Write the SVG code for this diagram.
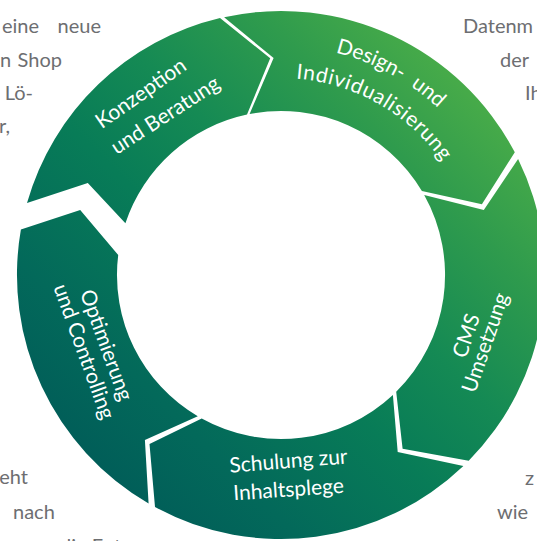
<svg xmlns="http://www.w3.org/2000/svg" width="537" height="541" viewBox="0 0 537 541">
<defs>
<linearGradient id="g" gradientUnits="userSpaceOnUse" x1="537" y1="0" x2="0" y2="541">
<stop offset="0" stop-color="#5dba47"/>
<stop offset="0.12" stop-color="#4cae48"/>
<stop offset="0.27" stop-color="#2f9b4d"/>
<stop offset="0.42" stop-color="#158a54"/>
<stop offset="0.55" stop-color="#087c57"/>
<stop offset="0.72" stop-color="#03695a"/>
<stop offset="0.88" stop-color="#005a58"/>
<stop offset="1" stop-color="#004e55"/>
</linearGradient>
<path id="arcD1" d="M79.75,165.72 A229,229 0 0 1 482.25,384.28"/>
<path id="arcD2" d="M109.02,176.89 A198,198 0 0 1 452.98,373.11"/>
</defs>
<style>
.seg{fill:url(#g)}
.lbl{font-family:Lato,"Open Sans",sans-serif;font-size:21px;fill:#ffffff}
.bg{font-family:Lato,"Open Sans",sans-serif;font-size:20px;fill:#6d6e71}
.r{text-anchor:end}
</style>
<rect width="537" height="541" fill="#ffffff"/>
<g id="background-text" class="bg">
<text x="2" y="33">eine</text>
<text class="r" x="101" y="33">neue</text>
<text x="0" y="67">n</text>
<text class="r" x="62" y="67">Shop</text>
<text class="r" x="33" y="100">Lö-</text>
<text class="r" x="10" y="133">r,</text>
<text x="463" y="33">Datenm</text>
<text x="500" y="67">der</text>
<text x="525" y="100">Ih</text>
<text class="r" x="28" y="484">eht</text>
<text x="13" y="519">nach</text>
<text x="60" y="553">die Ent</text>
<text x="525" y="485">z</text>
<text x="497" y="519">wie</text>
</g>
<g id="konzeption">
<path class="seg" d="M27.0,203.1 A264,264 0 0 1 220.0,18.1 L270.2,58.3 L247.0,114.6 A164,164 0 0 0 125.4,223.2 L87.8,182.9 Z"/>
<text class="lbl" transform="translate(101.7,129.3) rotate(-35)">Konzeption</text>
<text class="lbl" transform="translate(116.7,155) rotate(-33)">und Beratung</text>
</g>
<g id="design">
<path class="seg" d="M224.1,17.2 A264,264 0 0 1 514.8,152.3 L481.9,204.2 L421.9,191.0 A164,164 0 0 0 249.6,114.0 L273.6,58.1 Z"/>
<text class="lbl" text-anchor="middle" word-spacing="6"><textPath href="#arcD1" startOffset="50%">Design- und</textPath></text>
<text class="lbl" text-anchor="middle" letter-spacing="0.7"><textPath href="#arcD2" startOffset="50%">Individualisierung</textPath></text>
</g>
<g id="cms">
<path class="seg" d="M518.1,158.9 A264,264 0 0 1 468.7,460.7 L402.6,448.7 L396.2,391.8 A164,164 0 0 0 424.2,195.0 L483.8,209.9 Z"/>
<text class="lbl" text-anchor="middle" transform="translate(473,338) rotate(-71)">CMS</text>
<text class="lbl" text-anchor="middle" transform="translate(492,345) rotate(-71)">Umsetzung</text>
</g>
<g id="schulung">
<path class="seg" d="M463.4,465.9 A264,264 0 0 1 155.0,507.0 L149.5,443.9 L201.7,418.6 A164,164 0 0 0 392.9,395.0 L397.7,452.0 Z"/>
<text class="lbl" text-anchor="middle" transform="translate(289,468) rotate(-4.5)">Schulung zur</text>
<text class="lbl" text-anchor="middle" transform="translate(289,496.5) rotate(-4)">Inhaltsplege</text>
</g>
<g id="optimierung">
<path class="seg" d="M148.6,503.4 A264,264 0 0 1 20.9,229.6 L80.2,210.1 L118.2,255.0 A164,164 0 0 0 197.8,416.3 L144.9,440.1 Z"/>
<text class="lbl" text-anchor="middle" transform="translate(99.8,347.6) rotate(70)">Optimierung</text>
<text class="lbl" text-anchor="middle" transform="translate(77.5,353.9) rotate(70)">und Controlling</text>
</g>
</svg>
